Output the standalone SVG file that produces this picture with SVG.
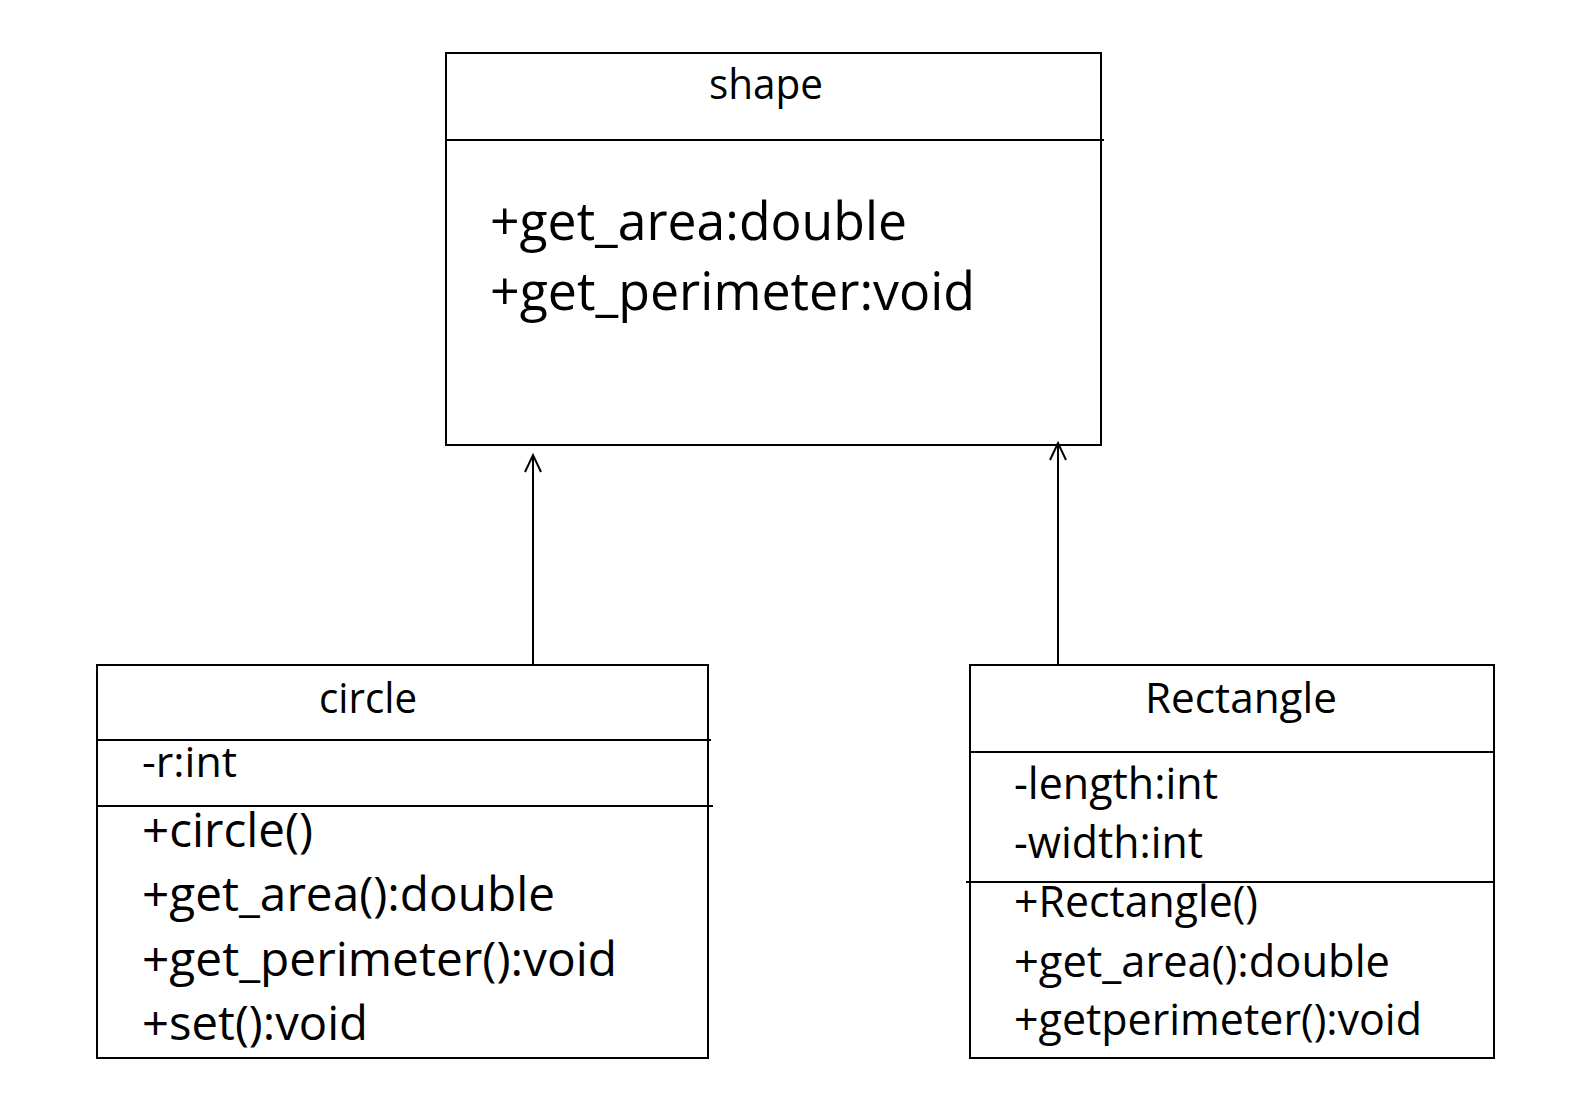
<svg xmlns="http://www.w3.org/2000/svg" width="1590" height="1106" viewBox="0 0 1590 1106">
  <defs>
    <style>
      .box { fill: #ffffff; stroke: #000000; stroke-width: 2; }
      .div { stroke: #000000; stroke-width: 2; fill: none; }
      .conn { stroke: #000000; stroke-width: 2; fill: none; }
      text { font-family: "Open Sans", "Noto Sans", "Liberation Sans", sans-serif; fill: #000000; }
      .title { font-size: 41.5px; text-anchor: middle; }
      .sbody { font-size: 52.5px; }
      .cattr { font-size: 42.5px; }
      .cbody { font-size: 47.5px; }
      .rbody { font-size: 43.5px; }
    </style>
    <marker id="openArrow" markerUnits="userSpaceOnUse" viewBox="-20 -10 22 20" refX="0" refY="0" markerWidth="22" markerHeight="20" orient="auto" overflow="visible">
      <path d="M-17,-8 L0,0 L-17,8" fill="none" stroke="#000000" stroke-width="2"/>
    </marker>
  </defs>
  <rect x="0" y="0" width="1590" height="1106" fill="#ffffff"/>

  <g id="shape">
    <rect class="box" x="446" y="53" width="655" height="392"/>
    <line class="div" x1="446" y1="140" x2="1104" y2="140"/>
    <text class="title" x="766" y="99" textLength="114" lengthAdjust="spacingAndGlyphs">shape</text>
    <text class="sbody" x="490" y="240" textLength="417" lengthAdjust="spacingAndGlyphs">+get_area:double</text>
    <text class="sbody" x="490" y="310" textLength="485" lengthAdjust="spacingAndGlyphs">+get_perimeter:void</text>
  </g>

  <g id="circle">
    <rect class="box" x="97" y="665" width="611" height="393"/>
    <line class="div" x1="97" y1="740" x2="711" y2="740"/>
    <line class="div" x1="97" y1="806" x2="713" y2="806"/>
    <text class="title" x="368" y="713" textLength="98" lengthAdjust="spacingAndGlyphs">circle</text>
    <text class="cattr" x="142" y="777" textLength="95" lengthAdjust="spacingAndGlyphs">-r:int</text>
    <text class="cbody" x="142" y="847" textLength="171" lengthAdjust="spacingAndGlyphs">+circle()</text>
    <text class="cbody" x="142" y="911" textLength="413" lengthAdjust="spacingAndGlyphs">+get_area():double</text>
    <text class="cbody" x="142" y="976" textLength="475" lengthAdjust="spacingAndGlyphs">+get_perimeter():void</text>
    <text class="cbody" x="142" y="1040" textLength="226" lengthAdjust="spacingAndGlyphs">+set():void</text>
  </g>

  <g id="rectangle">
    <rect class="box" x="970" y="665" width="524" height="393"/>
    <line class="div" x1="970" y1="752" x2="1494" y2="752"/>
    <line class="div" x1="966" y1="882" x2="1494" y2="882"/>
    <text class="title" x="1241" y="713" textLength="192" lengthAdjust="spacingAndGlyphs">Rectangle</text>
    <text class="rbody" x="1014" y="799" textLength="204" lengthAdjust="spacingAndGlyphs">-length:int</text>
    <text class="rbody" x="1014" y="858" textLength="189" lengthAdjust="spacingAndGlyphs">-width:int</text>
    <text class="rbody" x="1014" y="917" textLength="244" lengthAdjust="spacingAndGlyphs">+Rectangle()</text>
    <text class="rbody" x="1014" y="977" textLength="376" lengthAdjust="spacingAndGlyphs">+get_area():double</text>
    <text class="rbody" x="1014" y="1035" textLength="408" lengthAdjust="spacingAndGlyphs">+getperimeter():void</text>
  </g>

  <g id="connectors">
    <line class="conn" x1="533" y1="665" x2="533" y2="455" marker-end="url(#openArrow)"/>
    <line class="conn" x1="1058" y1="665" x2="1058" y2="443" marker-end="url(#openArrow)"/>
  </g>
</svg>
